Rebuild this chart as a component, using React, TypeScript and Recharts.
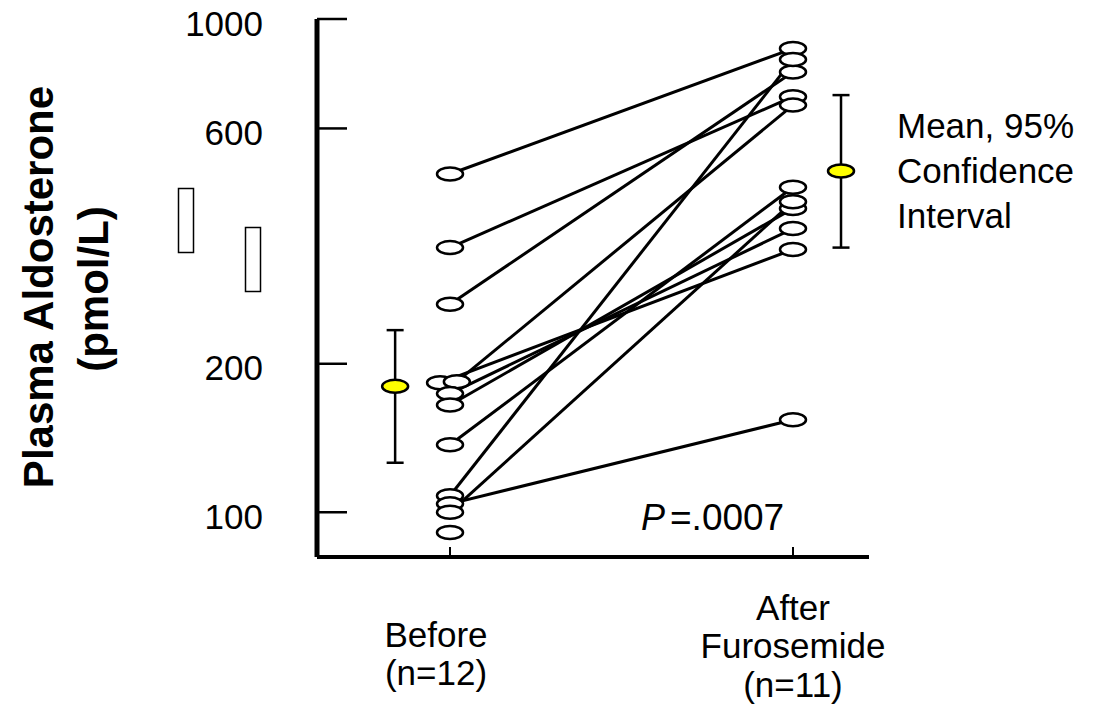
import React from "react";
import { ComposedChart, Scatter, XAxis, YAxis, ErrorBar } from "recharts";

// paired values per subject (pmol/L); subject 12 has no "after" value
const beforeValues = [485, 344, 264, 183, 184, 174, 165, 137, 108, 104, 100, 91];
const afterValues = [871, 696, 781, 341, 669, 376, 413, 456, 828, 154, 426, null];
// slight horizontal jitter used in the original for the two overlapping points
const beforeX = [1, 1, 1, 0.971, 1.02, 1, 1, 1, 1, 1, 1, 1];

const groupX = [1, 2];
const groupLabels = [["Before", "(n=12)"], ["After", "Furosemide", "(n=11)"]];

const meanValues = [180, 492];
const ciLow = [126, 344];
const ciHigh = [234, 701];
const meanX = [0.84, 2.14];

const yTicks = [100, 200, 600, 1000];

const FONT = "'Liberation Sans', Arial, Helvetica, sans-serif";

const OpenEllipse = (p: any) => (
  <ellipse cx={p.cx} cy={p.cy} rx={13} ry={6.5} fill="#fff" stroke="#000" strokeWidth={2.5} />
);

const MeanEllipse = (p: any) => (
  <ellipse cx={p.cx} cy={p.cy} rx={13} ry={6.5} fill="#ffff00" stroke="#000" strokeWidth={2.5} />
);

const NoDot = () => <g />;

function YTick(props: any) {
  const { x, y, payload } = props;
  return (
    <g>
      <line x1={x} y1={y} x2={x + 30} y2={y} stroke="#000" strokeWidth={2.5} />
      <text x={x - 54} y={y + 4} textAnchor="end" dominantBaseline="central" fontSize={35} fontFamily={FONT} fill="#000">
        {payload.value}
      </text>
    </g>
  );
}

function XTick(props: any) {
  const { x, y, payload } = props;
  const i = groupX.indexOf(payload.value);
  const lines = groupLabels[i] || [];
  const startDy = i === 0 ? 77 : 50;
  const dx = i === 0 ? -14 : 0;
  return (
    <g>
      <line x1={x} y1={y} x2={x} y2={y - 10} stroke="#000" strokeWidth={2} />
      {lines.map((t, k) => (
        <text
          key={k}
          x={x + dx}
          y={y + startDy + k * 38.5}
          textAnchor="middle"
          dominantBaseline="central"
          fontSize={35}
          fontFamily={FONT}
          fill="#000"
        >
          {t}
        </text>
      ))}
    </g>
  );
}

export default function App() {
  const pairs = beforeValues.map((b, i) => {
    const a = afterValues[i];
    const pts = [{ x: beforeX[i], y: b }];
    if (a != null) pts.push({ x: 2, y: a });
    return pts;
  });
  const beforeData = beforeValues.map((v, i) => ({ x: beforeX[i], y: v }));
  const afterData = afterValues.filter((v) => v != null).map((v) => ({ x: 2, y: v as number }));
  const meanData = meanValues.map((m, i) => ({
    x: meanX[i],
    y: m,
    err: [m - ciLow[i], ciHigh[i] - m],
  }));

  return (
    <div style={{ position: "absolute", left: 0, top: 0, width: 1117, height: 715, background: "#fff" }}>
      <ComposedChart width={1117} height={715} margin={{ top: 19, right: 248, bottom: 8, left: 237 }}>
        <XAxis
          type="number"
          dataKey="x"
          domain={[0.6122, 2.2216]}
          ticks={groupX}
          allowDataOverflow
          height={150}
          tickSize={0}
          tickMargin={0}
          tickLine={false}
          axisLine={{ stroke: "#000", strokeWidth: 4 }}
          tick={<XTick />}
          interval={0}
        />
        <YAxis
          type="number"
          dataKey="y"
          scale="log"
          domain={[81.15, 1000]}
          ticks={yTicks}
          allowDataOverflow
          width={80}
          tickSize={0}
          tickMargin={0}
          tickLine={false}
          axisLine={{ stroke: "#000", strokeWidth: 5 }}
          tick={<YTick />}
          interval={0}
        />
        {pairs.map((pts, i) => (
          <Scatter
            key={"pair" + i}
            data={pts}
            line={{ stroke: "#000", strokeWidth: 3 }}
            lineType="joint"
            shape={NoDot}
            isAnimationActive={false}
          />
        ))}
        <Scatter data={beforeData} shape={OpenEllipse} isAnimationActive={false} />
        <Scatter data={afterData} shape={OpenEllipse} isAnimationActive={false} />
        <Scatter data={meanData} shape={MeanEllipse} isAnimationActive={false}>
          <ErrorBar dataKey="err" direction="y" width={8.5} stroke="#000" strokeWidth={2.5} />
        </Scatter>
      </ComposedChart>

      <svg width={1117} height={715} style={{ position: "absolute", left: 0, top: 0, pointerEvents: "none" }}>
        <g fontFamily={FONT} fill="#000">
          <text
            transform="translate(38,287) rotate(-90)"
            textAnchor="middle"
            dominantBaseline="central"
            fontSize={42}
            fontWeight="bold"
          >
            Plasma Aldosterone
          </text>
          <text
            transform="translate(93,289) rotate(-90)"
            textAnchor="middle"
            dominantBaseline="central"
            fontSize={42}
            fontWeight="bold"
          >
            (pmol/L)
          </text>
          <text x={897} y={125} dominantBaseline="central" fontSize={35}>Mean, 95%</text>
          <text x={897} y={170} dominantBaseline="central" fontSize={35}>Confidence</text>
          <text x={897} y={215} dominantBaseline="central" fontSize={35}>Interval</text>
          <text x={641} y={517} dominantBaseline="central" fontSize={36} fontStyle="italic">P</text>
          <text x={670} y={517} dominantBaseline="central" fontSize={37}>=.0007</text>
        </g>
        <rect x={178.5} y={188.5} width={15} height={64} fill="none" stroke="#000" strokeWidth={1.5} />
        <rect x={245.5} y={227.5} width={15} height={64} fill="none" stroke="#000" strokeWidth={1.5} />
      </svg>
    </div>
  );
}
